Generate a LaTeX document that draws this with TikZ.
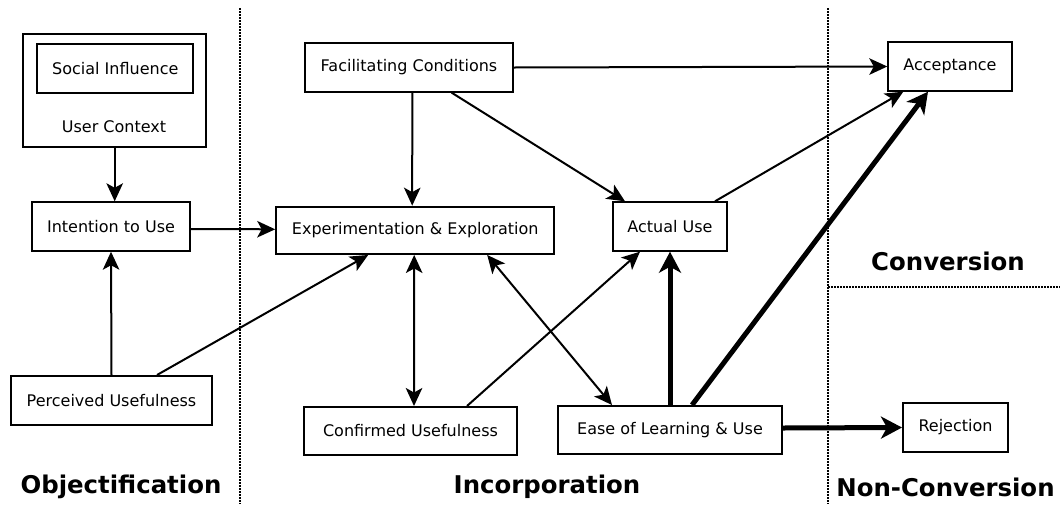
\documentclass[tikz,border=0pt]{standalone}
\usepackage{fontspec}
\setmainfont{DejaVu Sans}
\usetikzlibrary{arrows.meta}

\tikzset{
  box/.style={draw, line width=2pt, inner sep=0pt, align=center,
    font=\fontsize{16pt}{19pt}\selectfont},
  phase/.style={inner sep=0pt, font=\fontsize{24.4pt}{29pt}\selectfont\bfseries},
  tip/.style={Stealth[length=18pt,width=16.5pt,inset=4.5pt]},
  arr/.style={line width=2pt, -{Stealth[length=18pt,width=16.5pt,inset=4.5pt]}},
  dblarr/.style={line width=2pt,
    {Stealth[length=18pt,width=16.5pt,inset=4.5pt]}-{Stealth[length=18pt,width=16.5pt,inset=4.5pt]}},
  thickarr/.style={line width=5pt, -{Stealth[length=21pt,width=22pt,inset=6pt]}},
  divider/.style={line width=1.6pt, dash pattern=on 1.5pt off 1.5pt},
}

\begin{document}
\begin{tikzpicture}[x=1pt,y=-1pt]
\useasboundingbox (0,0) rectangle (1060,504);
\fill[white] (0,0) rectangle (1060,504);

% phase dividers
\coordinate (d1top) at (240,8);
\coordinate (d1bot) at (240,504);
\coordinate (d2top) at (828,8);
\coordinate (d2bot) at (828,504);
\coordinate (d3left) at (828,287);
\coordinate (d3right) at (1060,287);
\draw[divider] (d1top) -- (d1bot);
\draw[divider] (d2top) -- (d2bot);
\draw[divider] (d3left) -- (d3right);

% boxes
\node[box, minimum width=183pt, minimum height=113pt] (usrctx) at (114.7,90) {};
\node[box, minimum width=156pt, minimum height=48.4pt] (social) at (115.3,68.5) {Social Influence};
\node[inner sep=0pt, font=\fontsize{16pt}{19pt}\selectfont] (usrlbl) at (114,126.7) {User Context};
\node[box, minimum width=158pt, minimum height=48.4pt] (intent) at (111,226.5) {Intention to Use};
\node[box, minimum width=201pt, minimum height=49pt] (perc) at (111.5,400.5) {Perceived Usefulness};
\node[box, minimum width=208pt, minimum height=48.4pt] (facil) at (409,67.5) {Facilitating Conditions};
\node[box, minimum width=278pt, minimum height=47.3pt] (exper) at (415.2,230.3) {Experimentation \& Exploration};
\node[box, minimum width=213pt, minimum height=48pt] (conf) at (410.5,431) {Confirmed Usefulness};
\node[box, minimum width=114.6pt, minimum height=48.4pt] (actual) at (670,226.5) {Actual Use};
\node[box, minimum width=224pt, minimum height=48pt] (ease) at (670,430) {Ease of Learning \& Use};
\node[box, minimum width=123.4pt, minimum height=48.4pt] (accept) at (950,66.5) {Acceptance};
\node[box, minimum width=105pt, minimum height=49pt] (reject) at (955.5,427.5) {Rejection};

% phase labels
\node[phase] (objlbl) at (121,487) {Objectification};
\node[phase] (inclbl) at (547,487) {Incorporation};
\node[phase] (convlbl) at (948,261) {Conversion};
\node[phase] (nonconvlbl) at (945.5,487) {Non-Conversion};

% connectors
\draw[arr] (usrctx.south) -- (usrctx.south |- intent.north);
\draw[arr] ([yshift=-2.5pt]intent.east) -- ([yshift=1pt]exper.west);
\draw[arr] (perc.north) -- (intent.south);
\draw[arr] ([xshift=45.5pt]perc.north) -- ([xshift=-47pt]exper.south);
\draw[arr] ([xshift=3.3pt]facil.south) -- ([xshift=-3pt]exper.north);
\draw[arr] (facil.east) -- (accept.west);
\draw[arr] ([xshift=42.7pt]facil.south) -- ([xshift=-45pt]actual.north);
\draw[arr] ([xshift=45pt]actual.north) -- ([xshift=-46.7pt]accept.south);
\draw[dblarr] ([xshift=-1pt]exper.south) -- ([xshift=3.5pt]conf.north);
\draw[dblarr] ([xshift=72pt]exper.south) -- ([xshift=-58pt]ease.north);
\draw[arr] ([xshift=56.5pt]conf.north) -- ([xshift=-30pt]actual.south);
\draw[thickarr] (ease.north) -- (actual.south);
\draw[thickarr] ([xshift=22pt]ease.north) -- ([xshift=-22pt]accept.south);
\draw[thickarr] ([yshift=2pt]ease.east) -- (reject.west);
\end{tikzpicture}
\end{document}
